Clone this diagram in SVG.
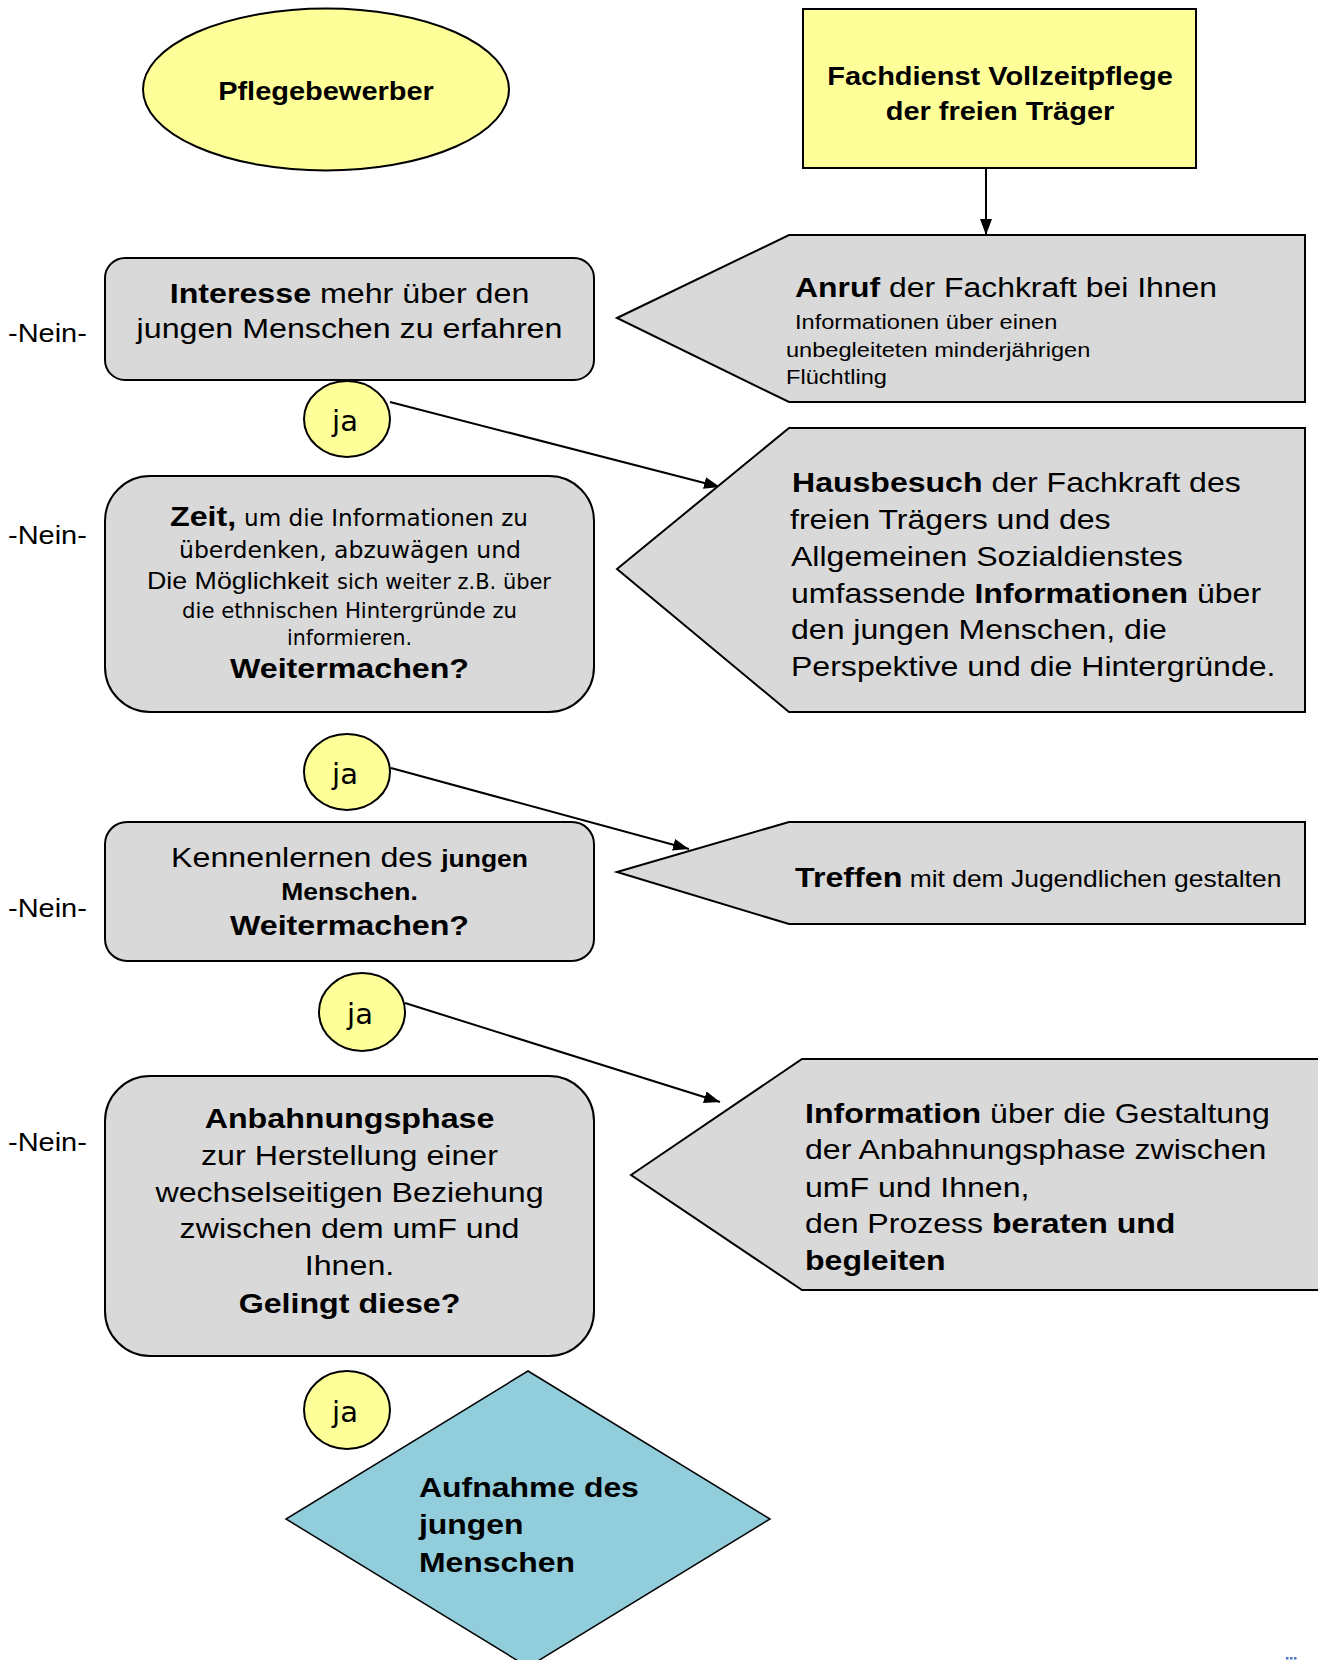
<svg xmlns="http://www.w3.org/2000/svg" width="1318" height="1660" viewBox="0 0 1318 1660">
<defs>
<style>
.box{fill:#D9D9D9;stroke:#000;stroke-width:2}
.yel{fill:#FFFF99;stroke:#000;stroke-width:2}
.dia{fill:#92CDDC;stroke:#000;stroke-width:1.5}
.ar{font-family:"Liberation Sans",Arial,sans-serif;fill:#000}
.th{font-family:"DejaVu Sans",Verdana,sans-serif;fill:#000}
.b{font-weight:bold}
.m{text-anchor:middle}
.f28{font-size:28px}
.f25{font-size:25.2px}
.ja{font-family:"DejaVu Sans",Verdana,sans-serif;font-size:29px;text-anchor:middle;fill:#000}
.conn{stroke:#000;stroke-width:2;fill:none}
</style>
<marker id="arr" markerUnits="userSpaceOnUse" markerWidth="17" markerHeight="12" refX="16" refY="6" orient="auto" viewBox="0 0 17 12"><path d="M0,0 L16,6 L0,12 z" fill="#000"/></marker>
</defs>
<rect x="0" y="0" width="1318" height="1660" fill="#fff"/>

<g id="connectors">
<line class="conn" x1="986" y1="168" x2="986" y2="235" marker-end="url(#arr)"/>
<line class="conn" x1="390" y1="402" x2="720" y2="487" marker-end="url(#arr)"/>
<line class="conn" x1="391" y1="768" x2="689" y2="849" marker-end="url(#arr)"/>
<line class="conn" x1="405" y1="1003" x2="720" y2="1102" marker-end="url(#arr)"/>
</g>

<g id="pflegebewerber">
<ellipse class="yel" cx="326" cy="89.5" rx="183" ry="81"/>
<text class="ar b m f25" transform="matrix(1.15 0 0 1 326 100)">Pflegebewerber</text>
</g>

<g id="fachdienst">
<rect class="yel" x="803" y="9" width="393" height="159"/>
<text class="ar b m f25" transform="matrix(1.15 0 0 1 1000 85)">Fachdienst Vollzeitpflege</text>
<text class="ar b m f25" transform="matrix(1.15 0 0 1 1000 120)">der freien Träger</text>
</g>

<g id="anruf">
<polygon class="box" points="617,318 789,235 1305,235 1305,402 789,402"/>
<text class="ar f28" transform="matrix(1.14 0 0 1 795 297)"><tspan class="b">Anruf</tspan> der Fachkraft bei Ihnen</text>
<text class="ar" font-size="20.7" transform="matrix(1.14 0 0 1 795 329)">Informationen über einen</text>
<text class="ar" font-size="20.7" transform="matrix(1.14 0 0 1 786 357)">unbegleiteten minderjährigen</text>
<text class="ar" font-size="20.7" transform="matrix(1.14 0 0 1 786 384)">Flüchtling</text>
</g>

<g id="interesse">
<rect class="box" x="105" y="258" width="489" height="122" rx="20" ry="20"/>
<text class="ar m f28" transform="matrix(1.15 0 0 1 349.5 303)"><tspan class="b">Interesse</tspan> mehr über den</text>
<text class="ar m f28" transform="matrix(1.15 0 0 1 349.5 338)">jungen Menschen zu erfahren</text>
</g>

<g id="ja1">
<ellipse class="yel" cx="347" cy="419" rx="43" ry="38"/>
<text class="ja" x="345" y="431">ja</text>
</g>

<g id="zeit">
<rect class="box" x="105" y="476" width="489" height="236" rx="45" ry="45"/>
<text class="ar b f28" transform="matrix(1.15 0 0 1 170 526)">Zeit,</text>
<text class="th" font-size="23" x="244" y="526" textLength="284" lengthAdjust="spacingAndGlyphs">um die Informationen zu</text>
<text class="th m" font-size="23" x="350" y="558" textLength="342" lengthAdjust="spacingAndGlyphs">überdenken, abzuwägen und</text>
<text class="ar" font-size="23.3" transform="matrix(1.15 0 0 1 147 589)">Die Möglichkeit</text>
<text class="th" font-size="21" x="337" y="589" textLength="214" lengthAdjust="spacingAndGlyphs">sich weiter z.B. über</text>
<text class="th" font-size="21" x="182" y="618" textLength="335" lengthAdjust="spacingAndGlyphs">die ethnischen Hintergründe zu</text>
<text class="th" font-size="21" x="287" y="645" textLength="125" lengthAdjust="spacingAndGlyphs">informieren.</text>
<text class="ar b m f28" transform="matrix(1.15 0 0 1 349.5 678)">Weitermachen?</text>
</g>

<g id="hausbesuch">
<polygon class="box" points="617,569 789,428 1305,428 1305,712 789,712"/>
<text class="ar f28" transform="matrix(1.145 0 0 1 792 492)"><tspan class="b">Hausbesuch</tspan> der Fachkraft des</text>
<text class="ar f28" transform="matrix(1.145 0 0 1 790 529)">freien Trägers und des</text>
<text class="ar f28" transform="matrix(1.145 0 0 1 791 566)">Allgemeinen Sozialdienstes</text>
<text class="ar f28" transform="matrix(1.145 0 0 1 791 603)">umfassende <tspan class="b">Informationen</tspan> über</text>
<text class="ar f28" transform="matrix(1.145 0 0 1 791 639)">den jungen Menschen, die</text>
<text class="ar f28" transform="matrix(1.145 0 0 1 791 676)">Perspektive und die Hintergründe.</text>
</g>

<g id="ja2">
<ellipse class="yel" cx="347" cy="772" rx="43" ry="38"/>
<text class="ja" x="345" y="784">ja</text>
</g>

<g id="kennenlernen">
<rect class="box" x="105" y="822" width="489" height="139" rx="22" ry="22"/>
<text class="ar m" transform="matrix(1.15 0 0 1 349.5 867)"><tspan font-size="28">Kennenlernen des </tspan><tspan class="b" font-size="23">jungen</tspan></text>
<text class="ar b m" font-size="23" transform="matrix(1.15 0 0 1 349.5 900)">Menschen.</text>
<text class="ar b m f28" transform="matrix(1.15 0 0 1 349.5 935)">Weitermachen?</text>
</g>

<g id="treffen">
<polygon class="box" points="617,872 789,822 1305,822 1305,924 789,924"/>
<text class="ar" transform="matrix(1.15 0 0 1 795 887)"><tspan class="b" font-size="28">Treffen</tspan><tspan font-size="23"> mit dem Jugendlichen gestalten</tspan></text>
</g>

<g id="ja3">
<ellipse class="yel" cx="362" cy="1012" rx="43" ry="39"/>
<text class="ja" x="360" y="1024">ja</text>
</g>

<g id="anbahnung">
<rect class="box" x="105" y="1076" width="489" height="280" rx="45" ry="45"/>
<text class="ar b m f28" transform="matrix(1.15 0 0 1 349.5 1128)">Anbahnungsphase</text>
<text class="ar m f28" transform="matrix(1.15 0 0 1 349.5 1165)">zur Herstellung einer</text>
<text class="ar m f28" transform="matrix(1.15 0 0 1 349.5 1202)">wechselseitigen Beziehung</text>
<text class="ar m f28" transform="matrix(1.15 0 0 1 349.5 1238)">zwischen dem umF und</text>
<text class="ar m f28" transform="matrix(1.15 0 0 1 349.5 1275)">Ihnen.</text>
<text class="ar b m f28" transform="matrix(1.15 0 0 1 349.5 1313)">Gelingt diese?</text>
</g>

<g id="information">
<polygon class="box" points="631,1175 802,1059 1330,1059 1330,1290 802,1290"/>
<text class="ar f28" transform="matrix(1.145 0 0 1 805 1123)"><tspan class="b">Information</tspan> über die Gestaltung</text>
<text class="ar f28" transform="matrix(1.145 0 0 1 805 1159)">der Anbahnungsphase zwischen</text>
<text class="ar f28" transform="matrix(1.145 0 0 1 805 1197)">umF und Ihnen,</text>
<text class="ar f28" transform="matrix(1.145 0 0 1 805 1233)">den Prozess <tspan class="b">beraten und</tspan></text>
<text class="ar b f28" transform="matrix(1.145 0 0 1 805 1270)">begleiten</text>
</g>

<g id="ja4">
<ellipse class="yel" cx="347" cy="1410" rx="43" ry="39"/>
<text class="ja" x="345" y="1422">ja</text>
</g>

<g id="aufnahme">
<polygon class="dia" points="528,1371 770,1519 528,1667 286,1519"/>
<text class="ar b f28" transform="matrix(1.14 0 0 1 419 1497)">Aufnahme des</text>
<text class="ar b f28" transform="matrix(1.14 0 0 1 419 1534)">jungen</text>
<text class="ar b f28" transform="matrix(1.14 0 0 1 419 1572)">Menschen</text>
</g>

<g id="nein-labels">
<text class="ar f25" transform="matrix(1.15 0 0 1 8 342)">-Nein-</text>
<text class="ar f25" transform="matrix(1.15 0 0 1 8 544)">-Nein-</text>
<text class="ar f25" transform="matrix(1.15 0 0 1 8 917)">-Nein-</text>
<text class="ar f25" transform="matrix(1.15 0 0 1 8 1151)">-Nein-</text>
</g>

<g id="marks" fill="#4472C4">
<rect x="1286" y="1657" width="2.5" height="2.5"/>
<rect x="1290" y="1657" width="2.5" height="2.5"/>
<rect x="1294" y="1657" width="2.5" height="2.5"/>
</g>
</svg>
